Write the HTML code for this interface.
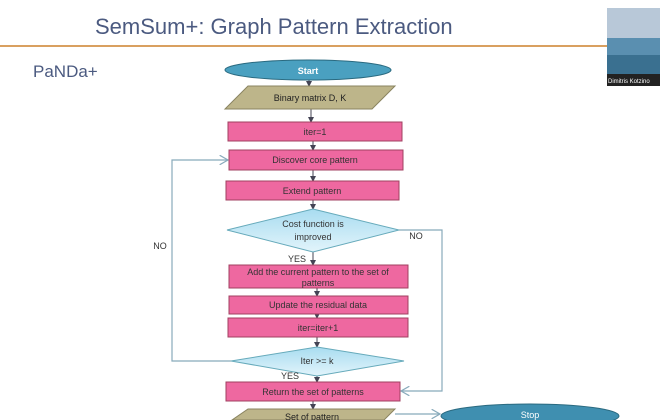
<!DOCTYPE html><html><head><style>body{margin:0;background:#fff}svg{display:block}</style></head><body>
<svg width="660" height="420" xmlns="http://www.w3.org/2000/svg" font-family="Liberation Sans, sans-serif">
<defs><marker id="a" markerWidth="6" markerHeight="6" refX="5" refY="3" orient="auto"><path d="M0,0L6,3L0,6z" fill="#445"/></marker>
<marker id="b" markerWidth="8" markerHeight="8" refX="7" refY="4" orient="auto"><path d="M0,0L7,4L0,8" fill="none" stroke="#8ab" stroke-width="1"/></marker>
<linearGradient id="d" x1="0" y1="0" x2="0" y2="1"><stop offset="0" stop-color="#a8dcf0"/><stop offset="1" stop-color="#e2f4fb"/></linearGradient></defs>
<text x="95" y="34" font-size="22" fill="#4b5a80">SemSum+: Graph Pattern Extraction</text>
<rect x="0" y="45" width="607" height="2" fill="#d9a060"/>
<rect x="607" y="8" width="53" height="78" fill="#5a8fb0"/><rect x="607" y="8" width="53" height="30" fill="#b8c8d8"/><rect x="607" y="55" width="53" height="20" fill="#3a7090"/>
<rect x="607" y="74" width="53" height="12" fill="#222"/><text x="608" y="83" font-size="6" fill="#fff">Dimitris Kotzino</text>
<text x="33" y="77" font-size="17" fill="#4b5a80">PaNDa+</text>
<g stroke="#8ab" fill="none" stroke-width="1.2">
<polyline points="231,361 172,361 172,160 228,160" marker-end="url(#b)"/>
<polyline points="399,230 442,230 442,391 401,391" marker-end="url(#b)"/>
<line x1="395" y1="414" x2="440" y2="414" marker-end="url(#b)"/></g>
<g stroke="#445" stroke-width="1" marker-end="url(#a)">
<line x1="309" y1="80" x2="309" y2="86"/><line x1="311" y1="109" x2="311" y2="122"/><line x1="313" y1="141" x2="313" y2="150"/>
<line x1="313" y1="170" x2="313" y2="181"/><line x1="313" y1="200" x2="313" y2="209"/><line x1="313" y1="252" x2="313" y2="265"/>
<line x1="317" y1="288" x2="317" y2="296"/><line x1="317" y1="314" x2="317" y2="318"/><line x1="317" y1="337" x2="317" y2="347"/>
<line x1="317" y1="376" x2="317" y2="382"/><line x1="313" y1="401" x2="313" y2="409"/></g>
<ellipse cx="308" cy="70" rx="83" ry="10" fill="#4aa0c0" stroke="#2a6a80"/>
<text x="308" y="74" font-size="9" fill="#fff" text-anchor="middle" font-weight="bold">Start</text>
<polygon points="248,86 395,86 372,109 225,109" fill="#bdb58a" stroke="#8a8460"/>
<text x="310" y="101" font-size="9" fill="#222" text-anchor="middle">Binary matrix D, K</text>
<g fill="#ee68a0" stroke="#a04060">
<rect x="228" y="122" width="174" height="19"/><rect x="229" y="150" width="174" height="20"/><rect x="226" y="181" width="173" height="19"/>
<rect x="229" y="265" width="179" height="23"/><rect x="229" y="296" width="179" height="18"/><rect x="228" y="318" width="180" height="19"/>
<rect x="226" y="382" width="174" height="19"/></g>
<polygon points="313,209 399,230 313,252 227,230" fill="url(#d)" stroke="#6ab"/>
<polygon points="317,347 404,361 317,376 231,361" fill="url(#d)" stroke="#6ab"/>
<g font-size="9" fill="#333" text-anchor="middle">
<text x="315" y="135">iter=1</text><text x="315" y="163">Discover core pattern</text><text x="312" y="194">Extend pattern</text>
<text x="313" y="227">Cost function is</text><text x="313" y="240">improved</text>
<text x="318" y="275">Add the current pattern to the set of</text><text x="318" y="286">patterns</text>
<text x="318" y="308">Update the residual data</text><text x="318" y="331">iter=iter+1</text>
<text x="317" y="364">Iter &gt;= k</text><text x="313" y="395">Return the set of patterns</text>
<text x="160" y="249">NO</text><text x="416" y="239">NO</text><text x="297" y="262">YES</text><text x="290" y="379">YES</text></g>
<polygon points="248,409 395,409 384,420 232,420" fill="#bdb58a" stroke="#8a8460"/>
<text x="312" y="420" font-size="9" fill="#222" text-anchor="middle">Set of pattern</text>
<ellipse cx="530" cy="416" rx="89" ry="12" fill="#3f8fb0" stroke="#2a6a80"/>
<text x="530" y="418" font-size="9" fill="#fff" text-anchor="middle">Stop</text>
</svg></body></html>
